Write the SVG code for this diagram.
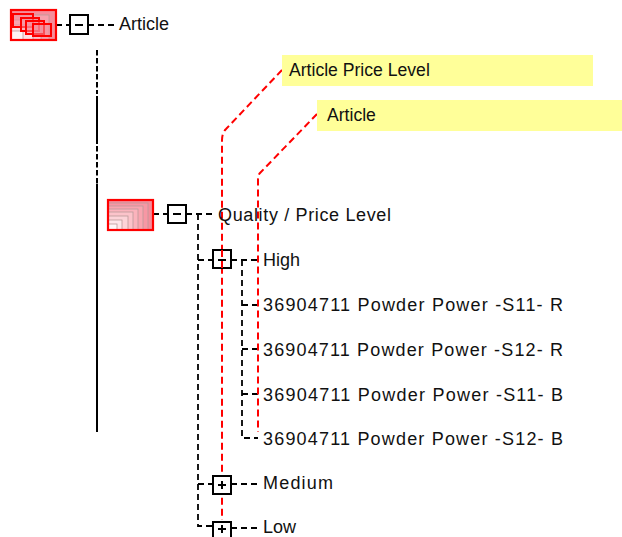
<svg xmlns="http://www.w3.org/2000/svg" width="622" height="537" viewBox="0 0 622 537">
<style>
text{font-family:"Liberation Sans",Arial,sans-serif;font-size:18px;fill:#111}
.d{fill:none;stroke:#000;stroke-width:1.8;stroke-dasharray:6 4}
.t{fill:none;stroke:#000;stroke-width:2;stroke-dasharray:5.5 2.5}
.s{fill:none;stroke:#000;stroke-width:2}
.r{fill:none;stroke:#f00;stroke-width:2;stroke-dasharray:7 4}
.b{fill:#fff;stroke:#000;stroke-width:2}
.o{fill:none;stroke:#f00;stroke-width:2.2}
.m{fill:none;stroke:#000;stroke-width:2}
.n{fill:#ffff99}
.w{fill:#f58d9b;fill-opacity:.55;stroke:#f00;stroke-width:2}
.l{stroke:#b99;stroke-width:.8}
</style>
<g id="connectors">
<path class="d" d="M56 25H70M88 25H116"/>
<path class="t" d="M97 50V94M97 146V184"/>
<path class="s" d="M97 96V144M97 184V432"/>
<path class="d" d="M153 214H168M186 214H216"/>
<path class="d" d="M198 214V526H213M198 260H213M198 484H213"/>
<path class="d" d="M231 260H260M242 260V438H258M242 305H258M242 349H258M242 394H258"/>
<path class="d" d="M231 484H261M231 528H261"/>
<path class="r" d="M282 70L226 129Q222 133 222 140V520"/>
<path class="r" d="M317 114L260 173Q258 175 258 180V432"/>
</g>
<g id="node-article">
<rect x="11" y="10" width="45" height="30" fill="#f58d9b"/>
<rect class="l" x="11" y="15" width="38" height="25" fill="#f8a0ac"/>
<rect class="l" x="11" y="20" width="30" height="20" fill="#fcc0c8"/>
<rect class="l" x="11" y="25" width="22" height="15" fill="#ffdfe3"/>
<rect class="l" x="11" y="31" width="12" height="9" fill="#fff4f5"/>
<rect class="o" x="11" y="10" width="45" height="30"/>
<rect class="w" x="13" y="14" width="20" height="13"/>
<rect class="w" x="21" y="18" width="18" height="13"/>
<rect class="w" x="26" y="21" width="18" height="13"/>
<rect class="w" x="33" y="24" width="18" height="12"/>
<rect class="b" x="70" y="15" width="18" height="19"/>
<path class="m" d="M75 25H83"/>
<text x="119" y="30">Article</text>
</g>
<g id="node-quality">
<rect x="108" y="200" width="45" height="30" fill="#f58d9b"/>
<rect class="l" x="108" y="203" width="40" height="27" fill="#f797a4"/>
<rect class="l" x="108" y="206" width="35" height="24" fill="#f9a5b0"/>
<rect class="l" x="108" y="209" width="30" height="21" fill="#fbb3bc"/>
<rect class="l" x="108" y="212" width="25" height="18" fill="#fcc3ca"/>
<rect class="l" x="108" y="216" width="20" height="14" fill="#fdd3d8"/>
<rect class="l" x="108" y="220" width="14" height="10" fill="#fee6e9"/>
<rect class="l" x="108" y="224" width="9" height="6" fill="#fff6f7"/>
<rect class="o" x="108" y="200" width="45" height="30"/>
<rect class="b" x="168" y="205" width="18" height="18"/>
<path class="m" d="M173 214H181"/>
<text x="218" y="220.5" textLength="173">Quality / Price Level</text>
</g>
<g id="node-high">
<rect class="b" x="213" y="250" width="18" height="18"/>
<path class="m" d="M218 260H226"/>
<path class="r" d="M222 250V268"/>
<text x="263" y="265.5">High</text>
</g>
<g id="item-1"><text x="263" y="310.5" textLength="300">36904711 Powder Power -S11- R</text></g>
<g id="item-2"><text x="263" y="355.5" textLength="300">36904711 Powder Power -S12- R</text></g>
<g id="item-3"><text x="263" y="400.5" textLength="300">36904711 Powder Power -S11- B</text></g>
<g id="item-4"><text x="263" y="444.5" textLength="300">36904711 Powder Power -S12- B</text></g>
<g id="node-medium">
<rect class="b" x="213" y="476" width="18" height="18"/>
<path class="m" d="M218 485H226M222 481V489"/>
<text x="263" y="489" textLength="70">Medium</text>
</g>
<g id="node-low">
<path class="b" d="M213 538V522H231V538"/>
<path class="m" d="M218 529H226M222 525V533"/>
<text x="263" y="533">Low</text>
</g>
<g id="note-price"><rect class="n" x="282" y="55" width="311" height="31"/><text x="289" y="76" style="font-size:17.6px">Article Price Level</text></g>
<g id="note-article"><rect class="n" x="317" y="100" width="305" height="31"/><text x="327" y="121" style="font-size:17.6px">Article</text></g>
</svg>
